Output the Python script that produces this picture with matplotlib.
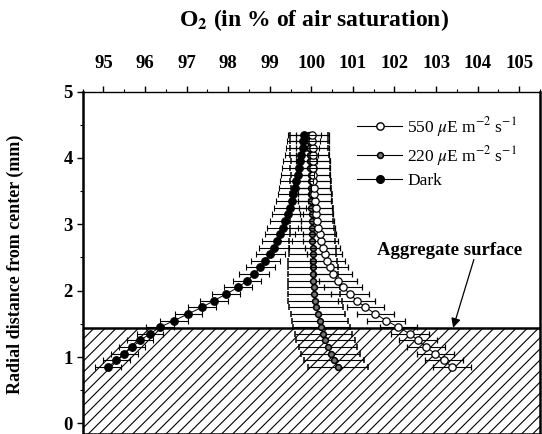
import numpy as np
import matplotlib
matplotlib.use("Agg")
import matplotlib.pyplot as plt
from matplotlib.lines import Line2D
from matplotlib.ticker import MultipleLocator

plt.rcParams['font.family'] = ['Liberation Serif', 'DejaVu Serif']
plt.rcParams['mathtext.fontset'] = 'stix'
plt.rcParams['hatch.color'] = 'black'
plt.rcParams['hatch.linewidth'] = 0.8

# radial distance (mm) of each measurement
depth = [0.85, 0.95, 1.05, 1.15, 1.25, 1.35, 1.45, 1.55, 1.65, 1.75, 1.85, 1.95,
         2.05, 2.15, 2.25, 2.35, 2.45, 2.55, 2.65, 2.75, 2.85, 2.95, 3.05, 3.15,
         3.25, 3.35, 3.45, 3.55, 3.65, 3.75, 3.85, 3.95, 4.05, 4.15, 4.25, 4.35]

# O2 (% air saturation)
o2_550 = [103.38, 103.19, 102.98, 102.76, 102.57, 102.37, 102.09, 101.80, 101.54,
          101.30, 101.09, 100.93, 100.76, 100.64, 100.53, 100.44, 100.38, 100.32,
          100.27, 100.23, 100.20, 100.16, 100.14, 100.12, 100.10, 100.08, 100.07,
          100.06, 100.05, 100.05, 100.04, 100.04, 100.03, 100.03, 100.02, 100.02]
err_550 = [0.45, 0.45, 0.45, 0.45, 0.45, 0.45, 0.45, 0.45, 0.45, 0.45, 0.45, 0.45,
           0.45, 0.45, 0.45, 0.45, 0.42, 0.42, 0.42, 0.42, 0.40, 0.40, 0.40, 0.40,
           0.40, 0.40, 0.40, 0.40, 0.40, 0.40, 0.40, 0.40, 0.40, 0.40, 0.40, 0.40]

o2_220 = [100.64, 100.55, 100.47, 100.40, 100.34, 100.29, 100.24, 100.20, 100.16,
          100.12, 100.09, 100.07, 100.06, 100.05, 100.04, 100.04, 100.03, 100.03,
          100.03, 100.02, 100.02, 100.02, 100.01, 100.01, 100.00, 100.00, 99.99,
          99.99, 99.98, 99.98, 99.97, 99.97, 99.96, 99.95, 99.95, 99.94]
err_220 = [0.72, 0.72, 0.71, 0.70, 0.70, 0.69, 0.68, 0.67, 0.66, 0.65, 0.64, 0.63,
           0.62, 0.61, 0.60, 0.59, 0.58, 0.57, 0.56, 0.55, 0.54, 0.53, 0.52, 0.52,
           0.51, 0.50, 0.50, 0.49, 0.49, 0.48, 0.48, 0.47, 0.47, 0.46, 0.46, 0.45]

o2_dark = [95.11, 95.31, 95.50, 95.69, 95.88, 96.12, 96.36, 96.70, 97.04, 97.37,
           97.66, 97.95, 98.24, 98.45, 98.62, 98.77, 98.89, 99.01, 99.10, 99.18,
           99.25, 99.31, 99.37, 99.43, 99.48, 99.53, 99.57, 99.60, 99.64, 99.67,
           99.70, 99.73, 99.76, 99.79, 99.81, 99.83]
err_dark = [0.32, 0.32, 0.32, 0.32, 0.32, 0.32, 0.33, 0.33, 0.33, 0.33, 0.34, 0.34,
            0.34, 0.34, 0.35, 0.35, 0.35, 0.35, 0.36, 0.36, 0.36, 0.37, 0.37, 0.37,
            0.38, 0.38, 0.38, 0.39, 0.39, 0.39, 0.40, 0.40, 0.40, 0.40, 0.40, 0.40]

surface_depth = 1.44
x_ticks = [95, 96, 97, 98, 99, 100, 101, 102, 103, 104, 105]
y_ticks = [0, 1, 2, 3, 4, 5]
labels = ["550 $\\mu$E m$^{-2}$ s$^{-1}$", "220 $\\mu$E m$^{-2}$ s$^{-1}$", "Dark"]

fig = plt.figure(figsize=(5.42, 4.34), dpi=100)
ax = fig.add_axes([0.1526, 0.0, 0.8437, 0.789])
ax.set_xlim(94.5, 105.5)
ax.set_ylim(-0.16, 5)
ymin = ax.get_ylim()[0]

# aggregate interior (hatched)
ax.axhspan(ymin, surface_depth, facecolor='none', edgecolor='black', hatch='///',
           linewidth=0, zorder=0)
ax.axhline(surface_depth, color='black', lw=1.8, zorder=1)

cap = 2.3
ax.errorbar(o2_220, depth, xerr=err_220, fmt='-', color='black', lw=0.8,
            elinewidth=0.8, capsize=cap, capthick=0.8, marker='o', ms=4.2,
            mfc='0.45', mec='black', mew=1.1, zorder=3)
ax.errorbar(o2_550, depth, xerr=err_550, fmt='-', color='black', lw=0.7,
            elinewidth=0.8, capsize=cap, capthick=0.8, marker='o', ms=5.3,
            mfc='white', mec='black', mew=0.9, zorder=4)
ax.errorbar(o2_dark, depth, xerr=err_dark, fmt='-', color='black', lw=0.7,
            elinewidth=0.8, capsize=cap, capthick=0.8, marker='o', ms=5.5,
            mfc='black', mec='black', mew=0.8, zorder=5)

# axes styling
ax.xaxis.tick_top()
ax.xaxis.set_label_position('top')
ax.set_xticks(x_ticks)
ax.set_yticks(y_ticks)
ax.xaxis.set_minor_locator(MultipleLocator(0.5))
ax.yaxis.set_minor_locator(MultipleLocator(0.5))
ax.tick_params(axis='x', which='major', direction='out', length=4, width=1,
               pad=10, labelsize=13.5)
ax.tick_params(axis='x', which='minor', direction='out', length=2, width=0.8)
ax.tick_params(axis='y', which='major', direction='out', length=4, width=1,
               pad=3, labelsize=13.5)
ax.tick_params(axis='y', which='minor', direction='out', length=2, width=0.8)
for lab in ax.get_yticklabels() + ax.get_xticklabels():
    lab.set_fontweight('bold')
ax.spines['top'].set_linewidth(1.0)
ax.spines['left'].set_linewidth(1.8)
ax.spines['right'].set_linewidth(1.8)
ax.spines['bottom'].set_linewidth(1.8)

fig.text(0.58, 0.953, r'O$_\mathbf{2}$ (in % of air saturation)', ha='center',
         va='center', fontsize=17, fontweight='bold')
fig.text(0.028, 0.39, 'Radial distance from center (mm)', rotation=90,
         ha='center', va='center', fontsize=13, fontweight='bold')

# legend
handles = [
    Line2D([], [], color='black', lw=0.8, marker='o', ms=5.3, mfc='white', mec='black'),
    Line2D([], [], color='black', lw=0.8, marker='o', ms=4.2, mfc='0.45', mec='black', mew=1.1),
    Line2D([], [], color='black', lw=0.8, marker='o', ms=5.5, mfc='black', mec='black'),
]
ax.legend(handles, labels, loc='upper left', bbox_to_anchor=(0.60, 0.932),
          frameon=False, fontsize=12.5, handlelength=2.6, handletextpad=0.3,
          labelspacing=0.3, borderpad=0, borderaxespad=0)

ax.text(103.33, 2.6, 'Aggregate surface', ha='center', va='center',
        fontsize=13.5, fontweight='bold')
ax.annotate('', xy=(103.41, surface_depth), xytext=(103.91, 2.47),
            arrowprops=dict(arrowstyle='-|>', color='black', lw=0.9,
                            mutation_scale=14, shrinkA=0, shrinkB=0))

fig.savefig('out.png', dpi=100)
